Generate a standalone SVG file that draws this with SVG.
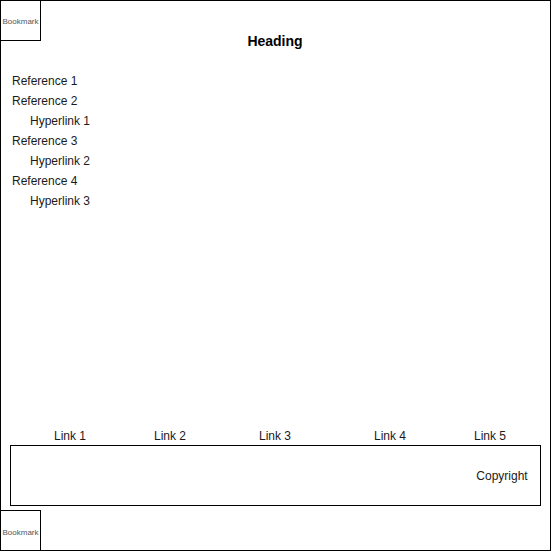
<svg xmlns="http://www.w3.org/2000/svg" width="552" height="552" viewBox="0 0 552 552">
<style>
.box{fill:#fff;stroke:#000;stroke-width:1}
.t{font-family:Helvetica,"Liberation Sans",Arial,sans-serif;font-size:12px;fill:#1a1a1a}
.bm{font-family:Helvetica,"Liberation Sans",Arial,sans-serif;font-size:8px;fill:#555;text-anchor:middle}
.c{text-anchor:middle}
</style>
<g id="page"><rect class="box" x="0.5" y="0.5" width="550" height="550"/></g>
<g id="bookmark-top"><rect class="box" x="0.5" y="0.5" width="40" height="40"/><text class="bm" x="20.5" y="24">Bookmark</text></g>
<g id="heading"><text class="t c" x="275" y="46" style="font-size:14px;font-weight:bold;fill:#000">Heading</text></g>
<g id="references">
<text class="t" x="12" y="85">Reference 1</text>
<text class="t" x="12" y="105">Reference 2</text>
<text class="t" x="30" y="125">Hyperlink 1</text>
<text class="t" x="12" y="145">Reference 3</text>
<text class="t" x="30" y="165">Hyperlink 2</text>
<text class="t" x="12" y="185">Reference 4</text>
<text class="t" x="30" y="205">Hyperlink 3</text>
</g>
<g id="links">
<text class="t c" x="70" y="440">Link 1</text>
<text class="t c" x="170" y="440">Link 2</text>
<text class="t c" x="275" y="440">Link 3</text>
<text class="t c" x="390" y="440">Link 4</text>
<text class="t c" x="490" y="440">Link 5</text>
</g>
<g id="footer"><rect class="box" x="10.5" y="445.5" width="530" height="60"/><text class="t c" x="502" y="480">Copyright</text></g>
<g id="bookmark-bottom"><rect class="box" x="0.5" y="510.5" width="40" height="40"/><text class="bm" x="20.5" y="535">Bookmark</text></g>
<g id="connectors"/>
</svg>
